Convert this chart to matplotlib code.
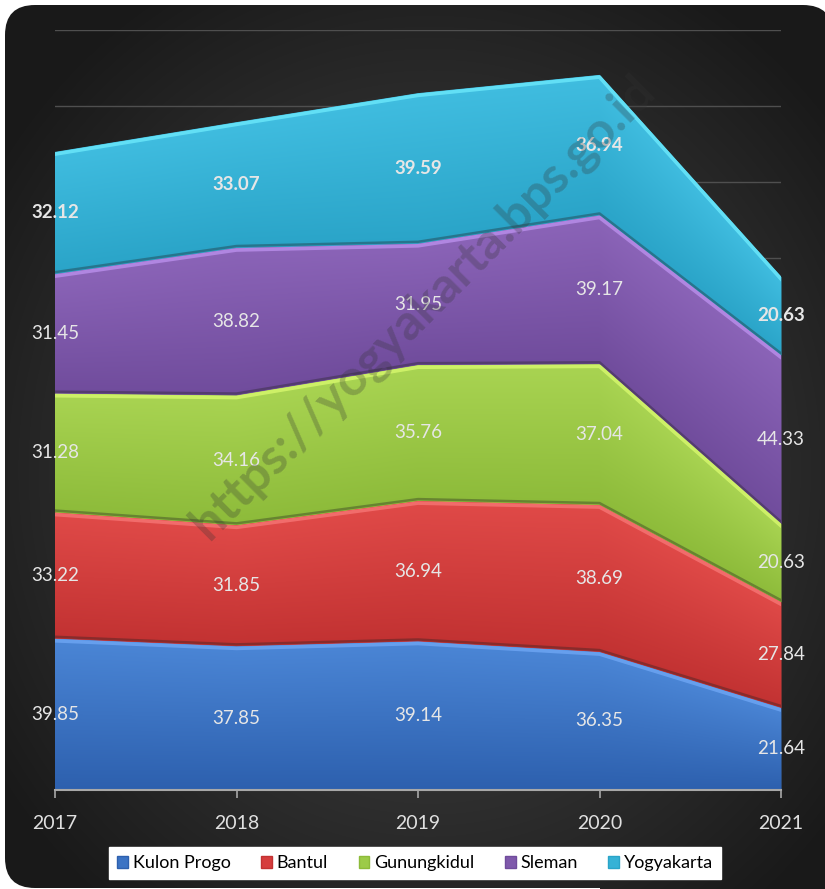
import numpy as np
import matplotlib.pyplot as plt
from matplotlib.patches import FancyBboxPatch, Patch, Rectangle
from matplotlib import transforms

plt.rcParams['font.family'] = ['Lato', 'DejaVu Sans']

years = [2017, 2018, 2019, 2020, 2021]
kulon_progo = [39.85, 37.85, 39.14, 36.35, 21.64]
bantul = [33.22, 31.85, 36.94, 38.69, 27.84]
gunungkidul = [31.28, 34.16, 35.76, 37.04, 20.63]
sleman = [31.45, 38.82, 31.95, 39.17, 44.33]
yogyakarta = [32.12, 33.07, 39.59, 36.94, 20.63]
names = ['Kulon Progo', 'Bantul', 'Gunungkidul', 'Sleman', 'Yogyakarta']
series = [kulon_progo, bantul, gunungkidul, sleman, yogyakarta]

# (base colour, light top, dark bottom, edge highlight)
colors = [
    ('#3b73c4', '#4b86d6', '#2d60ae', '#6aa2f0'),
    ('#d63d3d', '#e04a48', '#c23232', '#f47070'),
    ('#9ccb48', '#a9d452', '#8dbb3a', '#d2f46a'),
    ('#7f59ab', '#8b64b8', '#704c9c', '#b58ae6'),
    ('#36b2d6', '#40bde0', '#2aa4c8', '#66e4f8'),
]

W, H = 825, 889
fig = plt.figure(figsize=(W / 100, H / 100), dpi=100)
fig.patch.set_facecolor('white')

# dark rounded background with radial gradient
bg = fig.add_axes([0, 0, 1, 1])
bg.set_xlim(0, W)
bg.set_ylim(H, 0)
bg.axis('off')
gx, gy = np.meshgrid(np.linspace(-20, W + 40, 300), np.linspace(-20, H + 40, 300))
r = np.sqrt(((gx - 430) / 520) ** 2 + ((gy - 470) / 560) ** 2)
shade = np.clip(0.30 - 0.20 * r, 0.10, 0.30)
img = np.dstack([shade, shade, shade])
box = FancyBboxPatch((5, 5), 828, 883, boxstyle='round,pad=0,rounding_size=30',
                     facecolor='none', edgecolor='none', lw=0)
bg.add_patch(box)
corner = Rectangle((600, 600), 400, 400, facecolor='none', edgecolor='none')
bg.add_patch(corner)
for clip in (box, corner):
    im = bg.imshow(img, extent=(-20, W + 40, H + 40, -20), aspect='auto',
                   interpolation='bilinear')
    im.set_clip_path(clip)
bg.set_xlim(0, W)
bg.set_ylim(H, 0)

ax = fig.add_axes([55 / W, 1 - 790 / H, 726 / W, 760 / H])
ax.patch.set_alpha(0)
ax.set_xlim(2017, 2021)
ax.set_ylim(0, 200)
for yv in range(20, 201, 20):
    ax.axhline(yv, color='#4f4f4f', lw=1, zorder=0)

xs = np.linspace(2017, 2021, 500)
ys = np.linspace(0, 200, 900)
XX, YY = np.meshgrid(xs, ys)

base = np.zeros(len(years))
tops = []
for vals, (c, light, dark, hi) in zip(series, colors):
    vals = np.array(vals)
    top = base + vals
    poly = ax.fill_between(years, base, top, color=c, lw=0, zorder=1)
    lo = np.interp(xs, years, base)
    up = np.interp(xs, years, top)
    t = np.clip((YY - lo) / (up - lo), 0, 1)
    l = np.array(plt.matplotlib.colors.to_rgb(light))
    d = np.array(plt.matplotlib.colors.to_rgb(dark))
    rgb = d[None, None, :] + (l - d)[None, None, :] * t[:, :, None]
    gim = ax.imshow(rgb, extent=(2017, 2021, 0, 200), origin='lower',
                    aspect='auto', zorder=2, interpolation='bilinear')
    gim.set_clip_path(poly.get_paths()[0], transform=ax.transData)
    tops.append(top)
    base = top

# bevel edges
up_off = transforms.offset_copy(ax.transData, fig=fig, x=0, y=1.3, units='points')
dn_off = transforms.offset_copy(ax.transData, fig=fig, x=0, y=-1.6, units='points')
for i, top in enumerate(tops):
    if i < len(tops) - 1:
        ax.plot(years, top, color='#202020', alpha=0.35, lw=1.8,
                transform=up_off, zorder=3, solid_joinstyle='round')
    ax.plot(years, top, color=colors[i][3], lw=2.6, alpha=0.9, transform=dn_off,
            zorder=4, solid_joinstyle='round')

# value labels
base = np.zeros(len(years))
for i, vals in enumerate(series):
    for x, v, b in zip(years, vals, base):
        ax.text(x, b + v / 2, f'{v:.2f}', ha='center', va='center',
                color='#e6e6e6', fontsize=13.5,
                fontweight='bold' if i == 4 else 'normal', zorder=6, clip_on=False)
    base = base + np.array(vals)

# watermark
fig.text(0.512, 0.655, 'https://yogyakarta.bps.go.id', rotation=45,
         ha='center', va='center', fontsize=36, fontweight='bold',
         color='#333333', alpha=0.28, zorder=10)

for s in ['top', 'left', 'right']:
    ax.spines[s].set_visible(False)
ax.spines['bottom'].set_color('#a8a8a8')
ax.spines['bottom'].set_linewidth(1.5)
ax.spines['bottom'].set_zorder(7)
ax.set_xticks(years)
ax.set_xticklabels([str(y) for y in years])
ax.set_yticks([])
ax.tick_params(axis='x', colors='#a8a8a8', labelcolor='#e0e0e0', length=6,
               width=1.2, pad=12, labelsize=14)

handles = [Patch(facecolor=c[0], edgecolor=c[2], label=n) for n, c in zip(names, colors)]
leg = fig.legend(handles=handles, loc='center', bbox_to_anchor=(0.503, 0.029),
                 ncol=5, frameon=True, fancybox=False, fontsize=13,
                 handlelength=0.6, handleheight=0.6, handletextpad=0.25,
                 columnspacing=1.7, borderpad=0.45, borderaxespad=0)
leg.get_frame().set_facecolor('white')
leg.get_frame().set_edgecolor('white')
leg.get_frame().set_alpha(1)

fig.savefig('out.png', dpi=100)
